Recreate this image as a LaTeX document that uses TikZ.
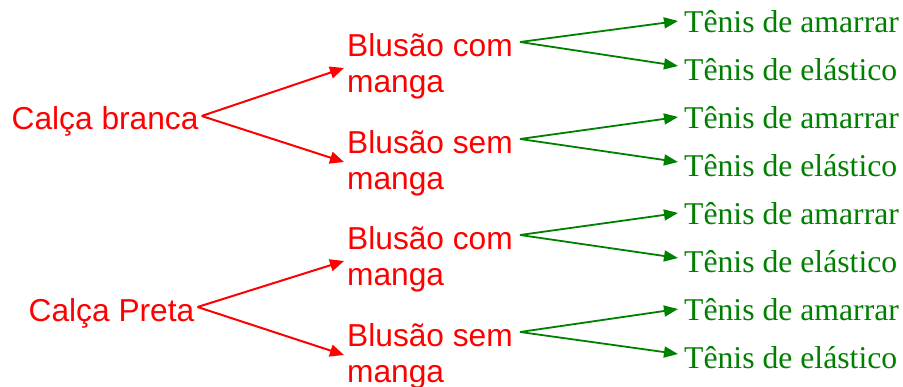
\documentclass[tikz,border=0pt]{standalone}
\usepackage{fontspec}
\setmainfont{Liberation Serif}
\newfontfamily\arialf{Liberation Sans}
\usetikzlibrary{arrows.meta}
\definecolor{tgreen}{RGB}{0,128,0}
\definecolor{tred}{RGB}{255,0,0}
\begin{document}
\begin{tikzpicture}[x=1pt,y=-1pt,
  redtxt/.style={font=\arialf\fontsize{31.7}{35.5}\selectfont, text=tred, inner sep=0pt, anchor=base west},
  greentxt/.style={font=\fontsize{31.7}{36}\selectfont, text=tgreen, inner sep=0pt, anchor=base west},
  redarrow/.style={draw=tred, line width=2pt, -{Triangle[length=14pt,width=12pt]}},
  greenarrow/.style={draw=tgreen, line width=1.8pt, -{Triangle[length=14pt,width=11pt]}}]
\useasboundingbox (0,0) rectangle (903,387);
% first column
\node[redtxt] (cb) at (11.5,130) {Calça branca};
\node[redtxt] (cp) at (28.5,322) {Calça Preta};
% second column
\node[redtxt] (bc1) at (347,57) {\begin{tabular}[t]{@{}l@{}}Blusão com\\manga\end{tabular}};
\node[redtxt] (bs1) at (347,154) {\begin{tabular}[t]{@{}l@{}}Blusão sem\\manga\end{tabular}};
\node[redtxt] (bc2) at (347,250) {\begin{tabular}[t]{@{}l@{}}Blusão com\\manga\end{tabular}};
\node[redtxt] (bs2) at (347,347) {\begin{tabular}[t]{@{}l@{}}Blusão sem\\manga\end{tabular}};
% third column
\node[greentxt] (t1) at (684,33) {Tênis de amarrar};
\node[greentxt] (t2) at (684,81) {Tênis de elástico};
\node[greentxt] (t3) at (684,129) {Tênis de amarrar};
\node[greentxt] (t4) at (684,177) {Tênis de elástico};
\node[greentxt] (t5) at (684,225) {Tênis de amarrar};
\node[greentxt] (t6) at (684,273) {Tênis de elástico};
\node[greentxt] (t7) at (684,321) {Tênis de amarrar};
\node[greentxt] (t8) at (684,369) {Tênis de elástico};
% red arrows
\draw[redarrow] ([shift={(3pt,14pt)}]cb.base east) -- ([shift={(-3pt,-11pt)}]bc1.base west);
\draw[redarrow] ([shift={(3pt,14pt)}]cb.base east) -- ([shift={(-3pt,-8pt)}]bs1.base west);
\draw[redarrow] ([shift={(3pt,15pt)}]cp.base east) -- ([shift={(-3pt,-11pt)}]bc2.base west);
\draw[redarrow] ([shift={(3pt,15pt)}]cp.base east) -- ([shift={(-3pt,-8pt)}]bs2.base west);
% green arrows
\foreach \b/\u/\l in {bc1/t1/t2, bs1/t3/t4, bc2/t5/t6, bs2/t7/t8}{
  \draw[greenarrow] ([shift={(173pt,15pt)}]\b.base west) -- ([shift={(-6pt,12pt)}]\u.base west);
  \draw[greenarrow] ([shift={(173pt,15pt)}]\b.base west) -- ([shift={(-6pt,15pt)}]\l.base west);
}
\end{tikzpicture}
\end{document}
